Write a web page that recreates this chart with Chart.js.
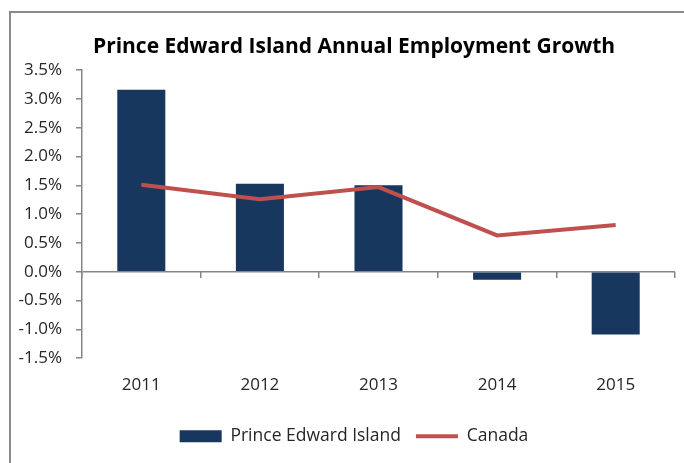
<!DOCTYPE html>
<html>
<head>
<meta charset="utf-8">
<script src="https://cdn.jsdelivr.net/npm/chart.js@4"></script>
<style>
  body { margin: 0; background: #fff; }
  #wrap { position: relative; width: 684px; height: 463px; }
  #frame { position: absolute; left: 9px; top: 11px; right: -5px; bottom: -5px;
           border: 2px solid #8a8a8a; }
  canvas { position: absolute; left: 0; top: 0; }
</style>
</head>
<body>
<div id="wrap">
  <div id="frame"></div>
  <canvas id="chart" width="684" height="463"></canvas>
</div>
<script>
// valores (en %)
const years = ['2011', '2012', '2013', '2014', '2015'];
const peiGrowth = [3.16, 1.53, 1.50, -0.14, -1.09];
const canadaGrowth = [1.51, 1.26, 1.47, 0.63, 0.81];

const NAVY = '#17375E';
const RED = '#C0504D';
const AXIS = '#868686';
const TEXT = '#262626';
const FONT = '"Open Sans", sans-serif';

const ctx = document.getElementById('chart').getContext('2d');

// las etiquetas del eje y salen del cuadro del eje: quitar el recorte
const unclipY = {
    id: 'unclipY',
    afterLayout(chart) {
        chart.scales.y.left = 0;
    }
};

new Chart(ctx, {
    data: {
        labels: years,
        datasets: [
            {
                type: 'bar',
                label: 'Prince Edward Island',
                data: peiGrowth,
                backgroundColor: NAVY,
                borderWidth: 0,
                categoryPercentage: 1,
                barPercentage: 0.405,
                pointStyle: 'rect',
                order: 1
            },
            {
                type: 'line',
                label: 'Canada',
                data: canadaGrowth,
                borderColor: RED,
                backgroundColor: RED,
                borderWidth: 4,
                pointRadius: 0,
                pointStyle: 'line',
                tension: 0,
                order: 0
            }
        ]
    },
    options: {
        responsive: false,
        animation: false,
        layout: { padding: { left: 33, right: 9, top: 0, bottom: 8 } },
        scales: {
            x: {
                type: 'category',
                offset: true,
                grid: { display: false, drawTicks: false },
                border: { display: false },
                ticks: { color: TEXT, font: { family: FONT, size: 17 }, padding: 17 }
            },
            x2: {
                type: 'category',
                labels: years,
                position: { y: 0 },
                offset: true,
                grid: { offset: true, drawOnChartArea: false, tickLength: 6, color: AXIS, lineWidth: 1.5 },
                border: { display: false },
                ticks: { display: false }
            },
            y: {
                min: -1.5,
                max: 3.5,
                grid: {
                    color: c => (c.tick && c.tick.value === 0) ? AXIS : 'rgba(0,0,0,0)',
                    lineWidth: 1.5,
                    tickColor: AXIS,
                    tickLength: 6
                },
                border: { color: AXIS, width: 1.5 },
                ticks: {
                    stepSize: 0.5,
                    color: TEXT,
                    font: { family: FONT, size: 17 },
                    padding: 14,
                    callback: v => v.toFixed(1) + '%'
                },
                afterFit: scale => { scale.width = 49; }
            }
        },
        plugins: {
            title: {
                display: true,
                text: 'Prince Edward Island Annual Employment Growth',
                color: '#000',
                font: { family: FONT, size: 21, weight: 'bold' },
                padding: { top: 34, bottom: 11 }
            },
            legend: {
                position: 'bottom',
                labels: {
                    usePointStyle: true,
                    pointStyleWidth: 42,
                    boxHeight: 12,
                    padding: 15,
                    color: TEXT,
                    font: { family: FONT, size: 17.5 },
                    sort: (a, b) => a.datasetIndex - b.datasetIndex
                }
            },
            tooltip: { enabled: false }
        }
    },
    plugins: [unclipY]
});
</script>
</body>
</html>
